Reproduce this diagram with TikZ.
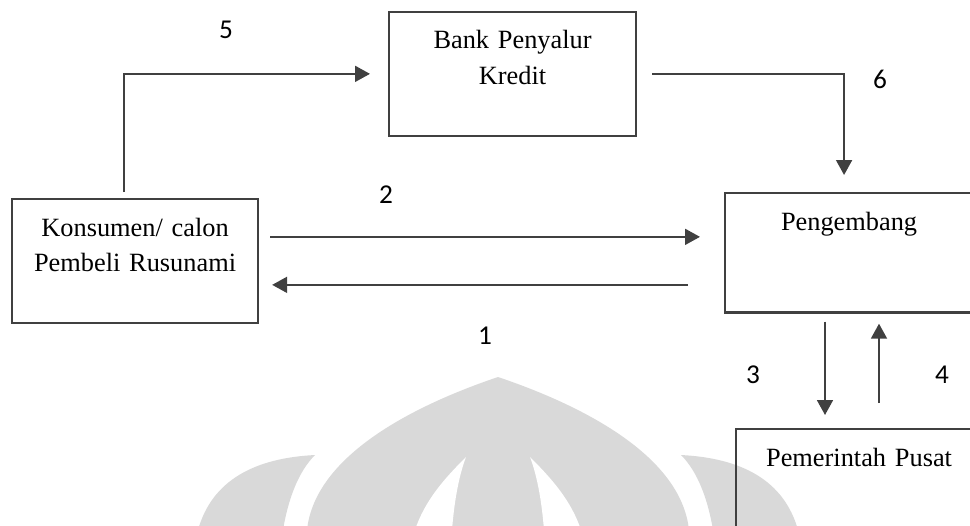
\documentclass[tikz,border=0pt]{standalone}
\usepackage{fontspec}
\setmainfont{Liberation Serif}
\newfontfamily\numfont{Carlito}
\usetikzlibrary{arrows.meta}
\usetikzlibrary{calc}
\definecolor{linegray}{RGB}{64,64,64}
\definecolor{markgray}{RGB}{217,217,217}

\begin{document}
\begin{tikzpicture}[x=0.02cm,y=-0.02cm,
    entity/.style={draw=linegray, line width=1.25pt, anchor=north west, inner sep=0pt,
        align=center, text height=21pt, font=\fontsize{15}{20}\selectfont},
    flow/.style={draw=linegray, line width=1.25pt, -{Triangle[length=8.5pt,width=9pt]}},
    num/.style={font=\numfont\fontsize{15.5}{18}\selectfont}]
        \useasboundingbox (0,0) rectangle (970,525);
        \clip (0,0) rectangle (970,525);

        % Watermark
        \fill[markgray] (307,530) .. controls (315,455) and (415,405) .. (498,377)
            .. controls (581,405) and (681,455) .. (689,530) -- cycle;
        \fill[white] (466,457) .. controls (445,478) and (425,500) .. (415,530)
            -- (452,530) .. controls (454,505) and (458,478) .. (466,457) -- cycle;
        \fill[white] (530,457) .. controls (551,478) and (571,500) .. (581,530)
            -- (544,530) .. controls (542,505) and (538,478) .. (530,457) -- cycle;
        \fill[markgray] (315,455) .. controls (255,458) and (212,480) .. (198,530)
            -- (283,530) .. controls (288,500) and (298,472) .. (315,455) -- cycle;
        \fill[markgray] (681,455) .. controls (741,458) and (784,480) .. (798,530)
            -- (713,530) .. controls (708,500) and (698,472) .. (681,455) -- cycle;

        % Nodes
        \node[entity, text width=4.92cm, text depth=49.3pt] (kons) at (11,198) {Konsumen/ calon\\Pembeli Rusunami};
        \node[entity, text width=4.94cm, text depth=49.3pt] (bank) at (388,11) {Bank Penyalur\\Kredit};
        \node[entity, text width=4.96cm, text depth=47pt] (peng) at (724,192) {Pengembang};
        \node[entity, text width=4.92cm, text depth=47pt] (pemer) at (735,428) {Pemerintah Pusat};

        \node[num] (lbl5) at (226,30) {5};
        \node[num] (lbl6) at (880,79) {6};
        \node[num] (lbl2) at (386,195) {2};
        \node[num] (lbl1) at (485,336) {1};
        \node[num] (lbl3) at (753,375) {3};
        \node[num] (lbl4) at (942,375) {4};

        % Arrows
        \draw[flow, shorten <=0.12cm, shorten >=0.36cm] ($(kons.north)+(-11,0)$) |- (bank.west);
        \draw[flow, shorten <=0.3cm, shorten >=0.34cm] (bank.east) -| ($(peng.north)+(-5,0)$);
        \draw[flow, shorten <=0.22cm, shorten >=0.48cm] ($(kons.east)+(0,-24)$) -- ($(kons.east -| peng.west)+(0,-24)$);
        \draw[flow, shorten <=0.72cm, shorten >=0.26cm] ($(kons.east -| peng.west)+(0,24)$) -- ($(kons.east)+(0,24)$);
        \draw[flow, shorten <=0.16cm, shorten >=0.26cm] ($(peng.south west)+(101,0)$) -- ($(pemer.north west)+(90,0)$);
        \draw[flow, shorten <=0.5cm, shorten >=0.2cm] ($(pemer.north west)+(144,0)$) -- ($(peng.south west)+(155,0)$);
\end{tikzpicture}
\end{document}
